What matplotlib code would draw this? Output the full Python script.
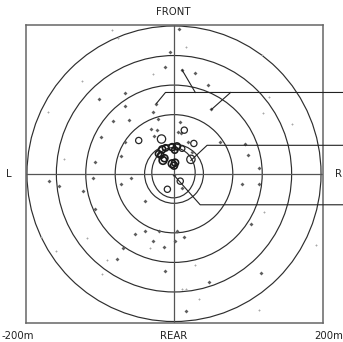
import matplotlib
matplotlib.use("Agg")
import matplotlib.pyplot as plt
from matplotlib.patches import Circle, Ellipse

# landing positions in metres (x: left/right, y: front/rear)
dot_x = [-170, -156, -110, -124, -58, -72, -108, -40, -53, -40, -70, -78, -14, -12,
         -28, -20, 6.5, -6, -12, 28, 11, 46.5, -67, -102, -67, -24, 51, -28, -83,
         -61.5, -21.5, 7.5, -31.5, -23.4, -27.5, -66, -99, 10, 5, 19, 63, 97, 24,
         -108, -72, 101, 115, 93, 115, 104.5, 4, 13, 2, 48, 119, 17, 11, 0]
dot_y = [-10, -17, -6, -24, -6, -14, -48, -37, -81, -78, -100, -116, -99, -132,
         -91, -78, 196, 165, 144, 137, 140.5, 120, 109, 101, 92, 95, 87, 83, 71,
         72.5, 74, 70, 61, 59, 51, 43, 50, 55, 57, 43, 42.5, 40, 29,
         16, 24, 26, 8, -14, -14, -68, -78, -85, -91, -146, -134, -186, -19.5, -2]

faint_x = [-160, -181, -119, -91, -98, -33, -85, -76, 17, -28, -171, 121, 161, 129,
           -150, -125, 120, 122, 193, 29, 11, 17, 34, 115]
faint_y = [-104, -85, -87, -117, -136, -101, 195, 184, 172, 135, 84, 82, 68, 104,
           20, 125, 161, -52, -97, -123, -156, -155.5, -169, -184]

circ_x = [-48, -17, 14, 27, 23, -9, 8.5, 11]
circ_y = [45, 47, 59, 41, 19.5, -21, -10, 34]
circ_d = [4.5, 6, 4.5, 4.5, 6, 4.5, 4.5, 4]

# tight group near the centre, drawn heavier
group_x = [-16, -11.5, -2.5, 1, 4, -18, -15, -2.5, 0, -21, -13, 1.5]
group_y = [33, 35, 36, 32, 37, 25, 18, 13.6, 11, 27, 21, 15]
group_d = [5, 4.5, 5, 4.5, 5, 4.5, 5.5, 5.5, 5, 4.5, 5, 5]

ring_radii = [40, 80, 120, 160, 200]
limit = 202

fig = plt.figure(figsize=(3.43, 3.42), dpi=100)
ax = fig.add_axes([25.5 / 343, 19 / 342, 297 / 343, 298.5 / 342])
ax.set_xlim(-limit, limit)
ax.set_ylim(-limit, limit)
ax.set_xticks([])
ax.set_yticks([])
for s in ax.spines.values():
    s.set_color("#666666")
    s.set_linewidth(1.1)

for r in ring_radii:
    ax.add_patch(Circle((0, 0), r, fill=False, edgecolor="#2e2e2e", lw=0.85))
ax.add_patch(Ellipse((-0.7, 1.4), 59, 68, fill=False, edgecolor="#2e2e2e", lw=0.85))

ax.axhline(0, color="#555555", lw=0.9)
ax.axvline(0, color="#555555", lw=0.9)

ax.scatter(faint_x, faint_y, s=1.5, marker="D", color="#a8a8a8", lw=0, zorder=3)
ax.scatter(dot_x, dot_y, s=4, marker="D", color="#5e5e5e", lw=0, zorder=3)
ax.scatter(circ_x, circ_y, s=[d ** 2 for d in circ_d], facecolors="none",
           edgecolors="#262626", linewidths=0.9, zorder=4)
ax.scatter(group_x, group_y, s=[d ** 2 for d in group_d], facecolors="none",
           edgecolors="#1a1a1a", linewidths=1.2, zorder=4)

# leader lines running out to the right edge
leaders = [
    ([-24, -11.6, 235], [95, 110, 110]),
    ([11, 29], [140.5, 110]),
    ([51, 77], [87, 110]),
    ([23, 45, 235], [18, 38.5, 38.5]),
    ([0, 35.6, 235], [-2, -42, -42]),
]
for lx, ly in leaders:
    ax.plot(lx, ly, color="#222222", lw=0.8, clip_on=False, zorder=5)

font = dict(fontsize=7.3, color="#222222", family="DejaVu Sans")
fig.text(173.5 / 343, 1 - 12 / 342, "FRONT", ha="center", va="center", **font)
fig.text(173.5 / 343, 1 - 336 / 342, "REAR", ha="center", va="center", **font)
fig.text(9 / 343, 1 - 174 / 342, "L", ha="center", va="center", **font)
fig.text(338 / 343, 1 - 174 / 342, "R", ha="center", va="center", **font)
fig.text(1 / 343, 1 - 336 / 342, "-200m", ha="left", va="center", **font)
fig.text(343 / 343, 1 - 336 / 342, "200m", ha="right", va="center", **font)

fig.savefig("out.png", dpi=100)
